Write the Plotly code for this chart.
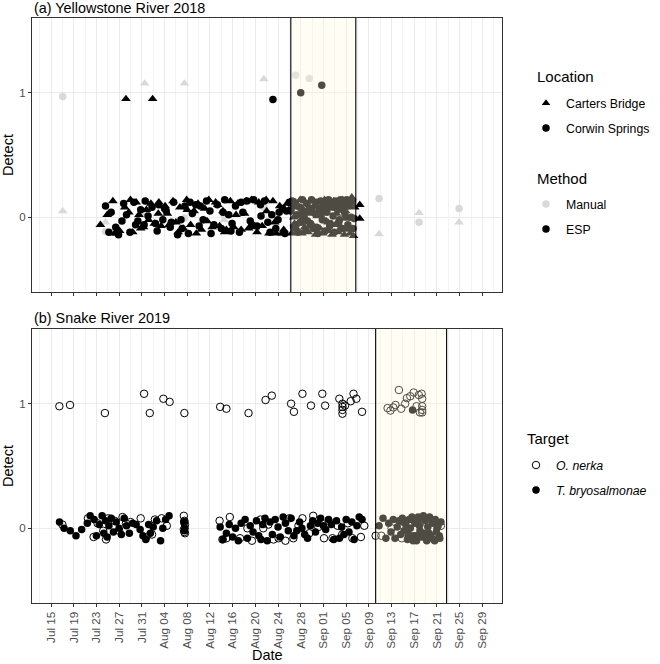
import pandas as pd
import plotly.graph_objects as go

# ---------------- DATA ----------------
# x values are days after Jul 15 (jittered positions), y = Detect (jittered)

# (a) Yellowstone River 2018
yel_cb_esp_days = [8.7, 10.9, 11.2, 12.1, 13.0, 13.7, 14.4, 15.0, 15.5, 16.3,
                   16.8, 17.6, 18.2, 18.9, 19.4, 20.1, 20.8, 21.5, 22.0, 22.7,
                   23.3, 23.9, 24.6, 25.2, 25.9, 26.5, 27.1, 27.8, 28.4, 29.0,
                   29.7, 30.3, 30.9, 31.6, 32.2, 32.9, 33.5, 34.1, 34.8, 35.3,
                   36.0, 36.6, 37.2, 37.9, 38.4, 39.1, 39.7, 40.3, 41.0, 41.6,
                   42.4, 42.6, 42.9, 43.1, 43.4, 43.7, 43.9, 44.2, 44.5, 44.7,
                   45.0, 45.3, 45.5, 45.8, 46.1, 46.3, 46.6, 46.9, 47.1, 47.4,
                   47.7, 47.9, 48.2, 48.5, 48.7, 49.0, 49.3, 49.5, 49.8, 50.1,
                   50.3, 50.6, 50.9, 51.1, 51.4, 51.7, 51.9, 52.2, 52.5, 52.7,
                   53.0, 53.3, 53.5, 42.8, 44.0, 45.6, 47.2, 48.8, 50.4, 52.0,
                   13.2, 17.9, 54.4, 54.4,
                   9.9, 11.6, 14.0, 15.8, 17.2, 19.0, 20.5, 22.4, 24.0, 25.6,
                   27.5, 29.4, 30.6, 32.6, 34.4, 36.3, 38.0, 39.4, 40.7, 41.9]
yel_cb_esp_detect = [-0.06, 0.13, -0.13, -0.11, 0.08, 0.04, -0.12, 0.12, 0.02, -0.08,
                     0.06, 0.11, -0.05, 0.03, -0.07, 0.09, -0.06, 0.13, -0.04, 0.08,
                     -0.09, 0.14, -0.06, 0.05, 0.11, -0.10, 0.07, 0.14, -0.08, 0.12,
                     -0.07, 0.05, -0.10, 0.13, -0.08, 0.11, -0.10, 0.03, -0.09, 0.14,
                     -0.08, 0.12, -0.07, 0.14, -0.13, 0.13, -0.13, 0.09, -0.10, 0.11,
                     -0.13, 0.08, -0.05, 0.12, -0.10, 0.02, 0.14, -0.13, 0.06, -0.08,
                     0.11, -0.12, 0.03, 0.13, -0.06, 0.09, -0.14, 0.01, 0.12, -0.09,
                     0.05, -0.13, 0.14, -0.03, 0.10, -0.11, 0.07, -0.14, 0.13, -0.06,
                     0.03, -0.12, 0.11, -0.08, 0.14, -0.14, 0.05, -0.10, 0.12, -0.13,
                     0.16, -0.15, 0.08, 0.00, -0.02, -0.07, 0.04, -0.04, 0.09, -0.01,
                     0.95, 0.95, 0.10, -0.01,
                     0.02, -0.13, 0.14, -0.09, -0.02, 0.12, 0.03, -0.12, 0.06, -0.13,
                     -0.03, 0.10, -0.12, 0.02, 0.13, -0.12, 0.05, -0.04, -0.13, 0.06]

yel_cs_esp_days = [9.6, 10.6, 11.4, 11.9, 12.5, 13.3, 13.9, 14.6, 15.3, 15.8,
                   16.4, 17.1, 17.8, 18.4, 19.0, 19.7, 20.3, 21.0, 21.6, 22.3,
                   22.9, 23.6, 24.2, 24.9, 25.5, 26.1, 26.8, 27.4, 28.0, 28.7,
                   29.3, 30.0, 30.6, 31.3, 31.9, 32.5, 33.2, 33.8, 34.5, 35.1,
                   35.7, 36.3, 37.0, 37.6, 38.2, 38.9, 39.6, 40.2, 40.8, 41.5,
                   42.0,
                   42.3, 42.5, 42.8, 43.0, 43.3, 43.5, 43.8, 44.1, 44.3, 44.6,
                   44.9, 45.1, 45.4, 45.7, 45.9, 46.2, 46.5, 46.7, 47.0, 47.3,
                   47.5, 47.8, 48.1, 48.3, 48.6, 48.9, 49.1, 49.4, 49.7, 49.9,
                   50.2, 50.5, 50.7, 51.0, 51.3, 51.5, 51.8, 52.1, 52.3, 52.6,
                   52.9, 53.1, 53.4, 43.2, 44.4, 45.2, 46.0, 46.8, 47.6, 48.4,
                   49.2, 50.0, 50.8, 51.6, 52.4, 53.2,
                   39.1, 44.0, 47.7,
                   10.2, 12.8, 14.9, 16.6, 18.7, 20.0, 21.2, 23.1, 24.5, 26.3,
                   28.2, 30.3, 31.7, 33.5, 35.4, 36.9, 38.6, 40.0, 41.2]
yel_cs_esp_detect = [0.09, 0.04, -0.08, -0.14, -0.03, 0.02, -0.12, 0.12, -0.03, 0.06,
                     -0.06, 0.01, 0.08, -0.05, 0.10, -0.02, 0.05, -0.08, 0.12, -0.14,
                     -0.02, 0.09, -0.13, 0.03, 0.10, -0.07, -0.02, 0.13, 0.05, -0.06,
                     0.10, -0.09, 0.14, 0.02, -0.05, 0.09, -0.12, 0.04, 0.13, -0.03,
                     0.14, -0.07, 0.01, 0.13, -0.04, 0.02, -0.09, 0.04, 0.07, 0.05,
                     0.12,
                     0.05, 0.13, -0.08, 0.10, 0.02, -0.12, 0.08, -0.04, 0.14, 0.00,
                     -0.10, 0.11, 0.06, -0.05, 0.14, -0.09, 0.03, 0.12, -0.13, 0.07,
                     0.13, -0.02, 0.10, -0.11, 0.04, 0.14, -0.07, 0.09, 0.01, -0.12,
                     0.13, 0.06, -0.04, 0.14, -0.09, 0.10, 0.02, 0.14, -0.06, 0.11,
                     0.00, 0.13, -0.01, -0.06, 0.04, -0.03, 0.07, -0.08, 0.02, 0.06,
                     -0.05, 0.08, -0.02, 0.05, 0.09, -0.09,
                     0.945, 1.00, 1.06,
                     -0.12, 0.11, -0.06, 0.13, -0.11, 0.07, -0.04, -0.09, 0.12, 0.09,
                     -0.13, 0.04, -0.11, 0.12, -0.06, 0.10, -0.12, -0.02, -0.13]

yel_cb_manual_days = [2.06, 9.6, 16.5, 23.5, 30.5, 37.5, 44.6, 57.8, 64.85, 71.9]
yel_cb_manual_detect = [0.05, -0.04, 1.075, 1.075, -0.02, 1.11, -0.10, -0.135, 0.035, -0.04]
yel_cs_manual_days = [2.06, 9.6, 16.5, 23.5, 30.5, 37.5, 43.1, 45.5, 57.8, 64.85, 71.9]
yel_cs_manual_detect = [0.97, -0.115, 0.03, -0.005, 0.02, 0.08, 1.14, 1.115, 0.15, -0.04, 0.07]

yel_esp_window = [42.25, 53.7]

# (b) Snake River 2019
snake_tb_days = [1.5, 2.3, 3.4, 4.4, 5.4, 6.4, 6.9, 7.6, 8.0, 8.5,
                 9.0, 9.3, 9.6, 9.9, 10.2, 10.6, 11.0, 11.5, 12.0, 12.4,
                 12.9, 13.3, 13.8, 14.4, 15.0, 15.7, 16.2, 16.7, 17.2, 17.5,
                 18.0, 18.6, 19.3, 19.7, 20.2, 20.8, 23.4, 23.6, 23.5, 29.8,
                 30.3, 30.9, 31.4, 32.0, 32.5, 33.0, 33.5, 34.2, 34.6, 35.1,
                 35.6, 36.2, 36.6, 37.0, 37.3, 37.7, 38.1, 38.6, 39.0, 39.5,
                 40.0, 40.4, 40.9, 41.3, 41.8, 42.3, 42.8, 43.3, 43.8, 44.2,
                 44.7, 45.2, 45.7, 46.1, 46.6, 47.0, 47.5, 48.0, 48.4, 48.9,
                 49.4, 49.8, 50.3, 50.8, 51.2, 51.6, 52.0, 52.5, 53.0, 53.4,
                 53.9, 54.3, 54.8,
                 57.8, 58.5, 59.0, 59.5, 59.9, 60.3, 60.6, 61.0, 61.3, 61.6,
                 61.9, 62.2, 62.5, 62.8, 63.1, 63.3, 63.6, 63.9, 64.1, 64.4,
                 64.7, 64.9, 65.2, 65.4, 65.7, 65.9, 66.2, 66.4, 66.7, 66.9,
                 67.2, 67.4, 67.7, 67.9, 68.2, 68.5, 68.7, 63.0, 63.8, 64.6,
                 65.0, 65.6, 66.0, 66.6, 67.1, 67.6, 68.0, 68.4, 64.3, 62.0,
                 63.7]
snake_tb_detect = [0.05, 0.00, -0.02, -0.06, -0.01, 0.04, 0.10, 0.07, -0.06, 0.03,
                   0.10, -0.04, 0.06, -0.07, 0.02, 0.08, -0.03, 0.05, 0.00, -0.05,
                   0.08, 0.02, -0.04, 0.04, 0.03, -0.01, -0.06, -0.09, 0.03, -0.04,
                   0.01, 0.06, -0.10, 0.00, 0.07, 0.10, 0.05, 0.00, -0.02, 0.01,
                   -0.09, -0.04, 0.03, -0.07, 0.00, -0.10, 0.04, 0.07, -0.08, 0.02,
                   -0.03, 0.06, -0.06, -0.09, 0.03, 0.08, -0.10, 0.05, -0.05, 0.07,
                   0.01, -0.07, 0.09, 0.04, -0.02, 0.08, -0.06, -0.02, 0.05, 0.00,
                   -0.05, -0.08, 0.02, 0.06, -0.03, 0.04, 0.08, 0.02, -0.01, 0.07,
                   0.03, -0.09, 0.06, -0.08, 0.01, -0.05, 0.07, -0.03, 0.05, -0.09,
                   0.02, 0.09, 0.07,
                   0.02, 0.08, -0.08, 0.04, -0.03, 0.07, -0.08, 0.01, 0.06, -0.05,
                   0.08, -0.02, 0.03, -0.09, 0.07, 0.00, 0.09, -0.06, 0.04, -0.10,
                   0.09, 0.02, -0.07, 0.08, -0.04, 0.06, -0.10, 0.01, 0.09, -0.06,
                   0.04, -0.09, 0.07, -0.03, 0.02, -0.08, 0.05, -0.05, -0.10, 0.05,
                   -0.02, 0.10, -0.08, -0.04, 0.06, -0.10, 0.00, -0.06, -0.06, 0.05,
                   0.95]

snake_on_days = [2.0, 6.5, 7.5, 8.2, 9.2, 9.7, 10.1, 11.2, 12.0, 12.6,
                 13.2, 14.0, 15.8, 16.8, 17.8, 18.3, 19.5, 20.4, 23.4, 23.5,
                 23.6, 23.4, 23.5, 23.6, 23.5, 29.7, 30.2, 30.9, 31.5, 33.3,
                 34.6, 35.4, 36.9, 37.4, 38.3, 39.2, 40.1, 41.3, 42.0, 42.7,
                 43.6, 44.3, 45.5, 46.2, 47.1, 48.1, 48.9, 49.6, 50.5, 51.3,
                 52.3, 53.1, 54.6, 55.2,
                 57.2, 58.2, 60.0, 61.8, 63.5, 64.2, 66.3, 68.7,
                 1.47, 3.35, 9.5, 16.4, 17.4, 19.8, 20.9, 23.5, 29.8, 30.9,
                 34.8, 37.8, 38.9, 42.3, 42.8, 44.3, 45.8, 47.8, 48.3, 50.8,
                 51.35, 51.35, 51.35, 51.35, 51.8, 52.8, 53.3, 53.8, 54.8,
                 59.3, 59.8, 60.3, 60.7, 61.3, 61.7, 62.4, 62.7, 63.3, 63.9,
                 64.4, 64.8, 65.3, 65.4, 65.4, 65.4, 65.4, 65.0]
snake_on_detect = [0.03, 0.08, -0.07, 0.04, -0.02, -0.09, 0.08, 0.06, -0.02, 0.09,
                   0.04, 0.05, 0.08, -0.07, -0.05, 0.07, 0.08, 0.02, 0.10, 0.06,
                   0.03, -0.01, -0.03, -0.04, 0.05, 0.06, -0.09, -0.08, 0.09, -0.08,
                   0.00, -0.10, 0.07, 0.00, 0.03, -0.09, -0.08, -0.10, 0.08, -0.08,
                   0.02, 0.08, -0.04, 0.10, 0.01, -0.08, 0.06, -0.08, 0.02, -0.05,
                   0.04, -0.08, -0.07, 0.02,
                   -0.06, -0.06, 0.00, -0.08, 0.04, -0.07, 0.03, 0.02,
                   0.98, 0.99, 0.925, 1.08, 0.925, 1.04, 1.015, 0.925, 0.975, 0.96,
                   0.925, 1.03, 1.065, 1.00, 0.935, 1.08, 0.985, 1.08, 0.985, 1.04,
                   1.00, 0.975, 0.95, 0.92, 0.985, 1.02, 1.08, 1.04, 0.935,
                   0.965, 0.945, 0.97, 0.99, 1.11, 0.96, 1.00, 1.045, 1.06, 1.09,
                   0.98, 1.07, 1.08, 1.04, 0.98, 0.95, 0.93, 0.93]

snake_esp_window = [57.2, 69.7]

tick_days = 4
x_range_days = [-3.35, 79.46]

# ---------------- FIGURE ----------------
FONT = "Liberation Sans, Arial, sans-serif"
BASE18 = pd.Timestamp("2018-07-15")
BASE19 = pd.Timestamp("2019-07-15")
DAY_MS = 86400000
GREY_MANUAL = "#d9d9d9"


def to_dates(base, days):
    return [base + pd.Timedelta(days=d) for d in days]


fig = go.Figure()

def pts(base, days, vals, symbol, color, size, xa, ya, line=None):
    fig.add_trace(go.Scatter(
        x=to_dates(base, days), y=vals, mode="markers",
        marker=dict(symbol=symbol, color=color, size=size,
                    line=line or dict(width=0)),
        showlegend=False, hoverinfo="skip", xaxis=xa, yaxis=ya))

# top panel
pts(BASE18, yel_cb_manual_days, yel_cb_manual_detect, "triangle-up", GREY_MANUAL, 8.5, "x", "y")
pts(BASE18, yel_cs_manual_days, yel_cs_manual_detect, "circle", GREY_MANUAL, 7.5, "x", "y")
pts(BASE18, yel_cb_esp_days, yel_cb_esp_detect, "triangle-up", "black", 8.5, "x", "y")
pts(BASE18, yel_cs_esp_days, yel_cs_esp_detect, "circle", "black", 7.5, "x", "y")

# bottom panel
pts(BASE19, snake_tb_days, snake_tb_detect, "circle", "black", 7.5, "x2", "y2")
pts(BASE19, snake_on_days, snake_on_detect, "circle-open", "black", 7.5, "x2", "y2",
    line=dict(width=1, color="black"))

# legend entries
def leg(name, symbol, color, legend, group, line=None):
    fig.add_trace(go.Scatter(
        x=[None], y=[None], mode="markers", name=name, legend=legend,
        legendgroup=group,
        marker=dict(symbol=symbol, color=color, size=7.5, line=line or dict(width=0)),
        xaxis="x", yaxis="y"))

leg("Carters Bridge", "triangle-up", "black", "legend", "cb")
leg("Corwin Springs", "circle", "black", "legend", "cs")
leg("Manual", "circle", GREY_MANUAL, "legend2", "man")
leg("ESP", "circle", "black", "legend2", "esp")
leg("<i>O. nerka</i>", "circle-open", "black", "legend3", "on",
    line=dict(width=1, color="black"))
leg("<i>T. bryosalmonae</i>", "circle", "black", "legend3", "tb")

# axes
def xaxis(base, anchor, show_labels):
    return dict(
        type="date", anchor=anchor, domain=[0, 1],
        range=[base + pd.Timedelta(days=x_range_days[0]), base + pd.Timedelta(days=x_range_days[1])],
        tick0=base, dtick=tick_days * DAY_MS, tickformat="%b %d", tickangle=-90,
        showticklabels=show_labels,
        ticks="outside", ticklen=3, tickwidth=1, tickcolor="#333333",
        tickfont=dict(family=FONT, size=11.7, color="#4d4d4d"),
        showline=True, linecolor="#333333", linewidth=1, mirror=True,
        showgrid=True, gridcolor="#ebebeb", gridwidth=1, zeroline=False,
        minor=dict(tick0=base, dtick=2 * DAY_MS, showgrid=True,
                   gridcolor="#f3f3f3", gridwidth=1),
    )

def yaxis(anchor, domain):
    return dict(
        anchor=anchor, domain=domain, range=[-0.6, 1.6],
        tickvals=[0, 1], ticktext=["0", "1"],
        ticks="outside", ticklen=3, tickwidth=1, tickcolor="#333333",
        tickfont=dict(family=FONT, size=11.5, color="#4d4d4d"),
        showline=True, linecolor="#333333", linewidth=1, mirror=True,
        showgrid=True, gridcolor="#ebebeb", gridwidth=1, zeroline=False,
    )

shapes = []
for base, win, xr, yr in [(BASE18, yel_esp_window, "x", "y domain"),
                          (BASE19, snake_esp_window, "x2", "y2 domain")]:
    x0 = base + pd.Timedelta(days=win[0])
    x1 = base + pd.Timedelta(days=win[1])
    shapes.append(dict(type="rect", xref=xr, yref=yr, x0=x0, x1=x1, y0=0, y1=1,
                       fillcolor="rgba(255,248,220,0.3)", line=dict(width=0), layer="above"))
    for xv in (x0, x1):
        shapes.append(dict(type="line", xref=xr, yref=yr, x0=xv, x1=xv, y0=0, y1=1,
                           line=dict(color="black", width=1.1), layer="above"))

H_TOP = 18; H_BOT = 61; PH = 664 - H_TOP - H_BOT  # plot-area paper height

def py(pix):
    return (664 - H_BOT - pix) / PH

def px(pix):
    return (pix - 32) / 470

annotations = [
    dict(text="(a) Yellowstone River 2018", x=0, y=py(8), xref="paper", yref="paper",
         xanchor="left", yanchor="middle", showarrow=False, font=dict(family=FONT, size=14.4, color="black")),
    dict(text="(b) Snake River 2019", x=0, y=py(318), xref="paper", yref="paper",
         xanchor="left", yanchor="middle", showarrow=False, font=dict(family=FONT, size=14.4, color="black")),
    dict(text="Detect", x=px(8), y=py(155), xref="paper", yref="paper", textangle=-90,
         xanchor="center", yanchor="middle", showarrow=False, font=dict(family=FONT, size=14.5, color="black")),
    dict(text="Detect", x=px(8), y=py(466), xref="paper", yref="paper", textangle=-90,
         xanchor="center", yanchor="middle", showarrow=False, font=dict(family=FONT, size=14.5, color="black")),
    dict(text="Date", x=0.5, y=py(655), xref="paper", yref="paper",
         xanchor="center", yanchor="middle", showarrow=False, font=dict(family=FONT, size=14.5, color="black")),
    dict(text="Location", x=px(535), y=py(77), xref="paper", yref="paper",
         xanchor="left", yanchor="middle", showarrow=False, font=dict(family=FONT, size=15, color="black")),
    dict(text="Method", x=px(535), y=py(178), xref="paper", yref="paper",
         xanchor="left", yanchor="middle", showarrow=False, font=dict(family=FONT, size=15, color="black")),
    dict(text="Target", x=px(525), y=py(438), xref="paper", yref="paper",
         xanchor="left", yanchor="middle", showarrow=False, font=dict(family=FONT, size=15, color="black")),
]

legend_common = dict(xanchor="left", yanchor="top", bgcolor="rgba(0,0,0,0)",
                     font=dict(family=FONT, size=12.3, color="black"),
                     tracegroupgap=6, traceorder="grouped", borderwidth=0)

fig.update_layout(
    width=660, height=664, autosize=False,
    margin=dict(l=32, r=158, t=H_TOP, b=H_BOT, autoexpand=False),
    paper_bgcolor="white", plot_bgcolor="white",
    xaxis=xaxis(BASE18, "y", False),
    yaxis=yaxis("x", [py(292), 1]),
    xaxis2=xaxis(BASE19, "y2", True),
    yaxis2=yaxis("x2", [0, py(329)]),
    shapes=shapes,
    annotations=annotations,
    legend=dict(x=px(526), y=py(88.5), **legend_common),
    legend2=dict(x=px(526), y=py(189.5), **legend_common),
    legend3=dict(x=px(516), y=py(450.5), **legend_common),
    font=dict(family=FONT),
)

# remove the default 8px page margin so the figure sits at the window's corner
fig.write_html("out.html", config={"displayModeBar": False},
               post_script="document.body.style.margin='0';document.body.style.overflow='hidden';")
